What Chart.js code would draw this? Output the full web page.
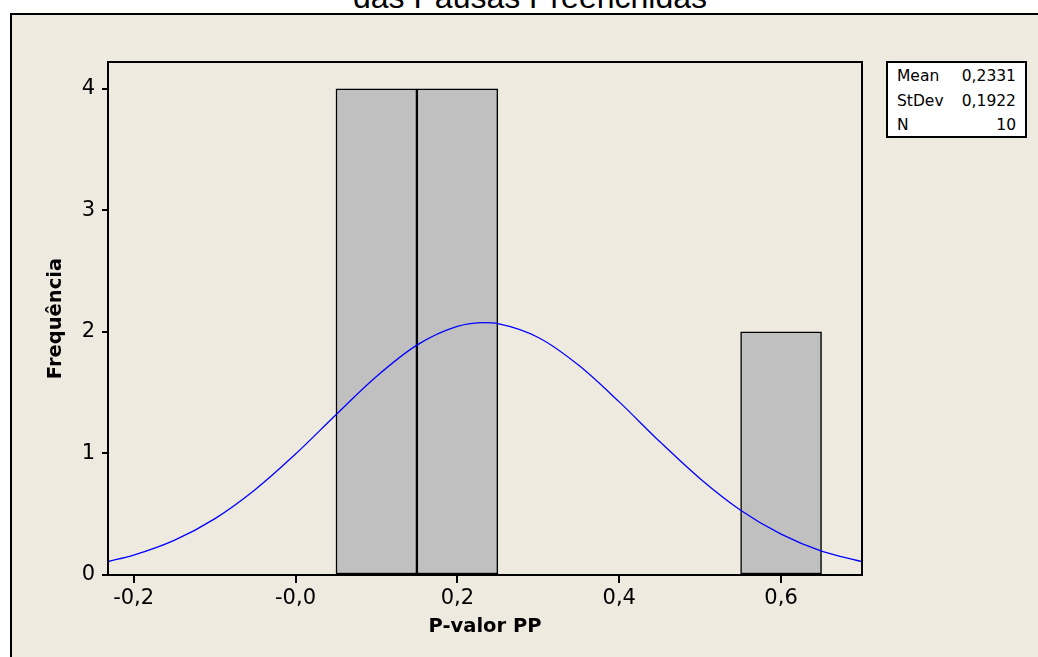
<!DOCTYPE html>
<html>
<head>
<meta charset="utf-8">
<script src="https://cdn.jsdelivr.net/npm/chart.js@4.4.1/dist/chart.umd.min.js"></script>
<style>
    body {
        margin: 0;
        width: 1038px;
        height: 657px;
        overflow: hidden;
        position: relative;
        background: #ffffff;
        font-family: "DejaVu Sans", sans-serif;
    }
    #panel {
        position: absolute;
        left: 10px;
        top: 13px;
        width: 1100px;
        height: 700px;
        background: #eeeae0;
        border-left: 2px solid #000;
        border-top: 2px solid #000;
    }
    #title {
        position: absolute;
        left: 0;
        top: -19px;
        width: 1060px;
        text-align: center;
        font: 32px "Liberation Sans", Arial, sans-serif;
        line-height: 32px;
        color: #000;
        white-space: nowrap;
    }
    #chart-box {
        position: absolute;
        left: 0;
        top: 0;
        width: 1038px;
        height: 657px;
    }
    #stats {
        position: absolute;
        left: 886px;
        top: 61px;
        width: 137px;
        height: 72px;
        padding-top: 1px;
        box-sizing: content-box;
        border: 2px solid #000;
        background: #fff;
        font: 15.5px "DejaVu Sans", sans-serif;
        color: #000;
    }
    .stat-row {
        display: flex;
        justify-content: space-between;
        height: 24.5px;
        line-height: 24.5px;
        padding: 0 9px;
    }
</style>
</head>
<body>
<div id="panel"></div>
<div id="title">das Pausas Preenchidas</div>
<div id="chart-box"><canvas id="hist-chart" width="1038" height="657"></canvas></div>
<div id="stats"></div>

<script>
// histogram bins (width 0.1)
const binCenters = [0.1, 0.2, 0.3, 0.4, 0.5, 0.6];
const binCounts = [4, 4, 0, 0, 0, 2];

// fitted normal curve
const curveX = [-0.2317, -0.2, -0.15, -0.1, -0.05, 0, 0.05, 0.1, 0.15, 0.2, 0.2331, 0.25, 0.3, 0.35, 0.4, 0.45, 0.5, 0.55, 0.6, 0.65, 0.7];
const curveY = [0.111, 0.164, 0.285, 0.462, 0.702, 0.995, 1.319, 1.633, 1.891, 2.045, 2.076, 2.068, 1.954, 1.725, 1.424, 1.098, 0.792, 0.533, 0.336, 0.197, 0.110];

const xTickValues = [-0.2, 0, 0.2, 0.4, 0.6];
const xTickLabels = ["-0,2", "-0,0", "0,2", "0,4", "0,6"];
const yTickValues = [0, 1, 2, 3, 4];
const yTickLabels = ["0", "1", "2", "3", "4"];

const statLabels = ["Mean", "StDev", "N"];
const statValues = ["0,2331", "0,1922", "10"];

function buildStats() {
    const box = document.getElementById("stats");
    statLabels.forEach((lab, i) => {
        const row = document.createElement("div");
        row.className = "stat-row";
        const a = document.createElement("span");
        a.textContent = lab;
        const b = document.createElement("span");
        b.textContent = statValues[i];
        row.appendChild(a);
        row.appendChild(b);
        box.appendChild(row);
    });
}

// black frame round the plot area, plus the x tick marks below it
const framePlugin = {
    id: "frame",
    afterDraw(chart) {
        const { ctx, chartArea } = chart;
        const xScale = chart.scales.x;
        ctx.save();
        ctx.strokeStyle = "#000";
        ctx.lineWidth = 2;
        ctx.strokeRect(chartArea.left, chartArea.top, chartArea.right - chartArea.left, chartArea.bottom - chartArea.top);
        ctx.beginPath();
        xTickValues.forEach(v => {
            const px = Math.round(xScale.getPixelForValue(v));
            ctx.moveTo(px, chartArea.bottom);
            ctx.lineTo(px, chartArea.bottom + 8);
        });
        ctx.stroke();
        ctx.restore();
    }
};

function drawChart() {
    const ctx = document.getElementById("hist-chart").getContext("2d");
    const tickFont = { family: "DejaVu Sans", size: 21 };
    const titleFont = { family: "DejaVu Sans", size: 19.5, weight: "bold" };

    new Chart(ctx, {
        type: "bar",
        data: {
            datasets: [
                {
                    type: "line",
                    label: "Normal",
                    data: curveX.map((x, i) => ({ x: x, y: curveY[i] })),
                    borderColor: "#0000ff",
                    borderWidth: 1.3,
                    pointRadius: 0,
                    cubicInterpolationMode: "monotone",
                    fill: false,
                    order: 0
                },
                {
                    type: "bar",
                    label: "Frequência",
                    data: binCenters.map((x, i) => ({ x: x, y: binCounts[i] })),
                    backgroundColor: "#c0c0c0",
                    borderColor: "#000",
                    borderWidth: 1.5,
                    borderSkipped: false,
                    barPercentage: 1,
                    categoryPercentage: 1,
                    order: 1
                }
            ]
        },
        options: {
            responsive: false,
            animation: false,
            layout: {
                padding: { left: 0, top: 62, right: 176, bottom: 0 }
            },
            plugins: {
                legend: { display: false },
                tooltip: { enabled: false },
                title: { display: false }
            },
            scales: {
                x: {
                    type: "linear",
                    offset: false,
                    min: -0.2317,
                    max: 0.7,
                    afterBuildTicks: (scale) => {
                        scale.ticks = xTickValues.map(v => ({ value: v }));
                    },
                    afterFit: (scale) => {
                        scale.height = 82;
                    },
                    ticks: {
                        color: "#000",
                        font: tickFont,
                        padding: 3,
                        maxRotation: 0,
                        callback: (value) => {
                            const idx = xTickValues.indexOf(value);
                            return idx >= 0 ? xTickLabels[idx] : "";
                        }
                    },
                    grid: {
                        offset: false,
                        drawOnChartArea: false,
                        drawTicks: true,
                        tickLength: 8,
                        color: "#000",
                        lineWidth: 2
                    },
                    border: { display: false },
                    title: {
                        display: true,
                        text: "P-valor PP",
                        color: "#000",
                        font: titleFont,
                        padding: { top: 0, bottom: 18 }
                    }
                },
                y: {
                    type: "linear",
                    min: 0,
                    max: 4.22,
                    afterBuildTicks: (scale) => {
                        scale.ticks = yTickValues.map(v => ({ value: v }));
                    },
                    afterFit: (scale) => {
                        scale.width = 108;
                    },
                    ticks: {
                        color: "#000",
                        font: tickFont,
                        padding: 7,
                        callback: (value) => {
                            const idx = yTickValues.indexOf(value);
                            return idx >= 0 ? yTickLabels[idx] : "";
                        }
                    },
                    grid: {
                        offset: false,
                        drawOnChartArea: false,
                        drawTicks: true,
                        tickLength: 6,
                        color: "#000",
                        lineWidth: 2
                    },
                    border: { display: false },
                    title: {
                        display: true,
                        text: "Frequência",
                        color: "#000",
                        font: titleFont,
                        padding: { top: 44, bottom: 0 }
                    }
                }
            }
        },
        plugins: [framePlugin]
    });
}

buildStats();
drawChart();
</script>
</body>
</html>
